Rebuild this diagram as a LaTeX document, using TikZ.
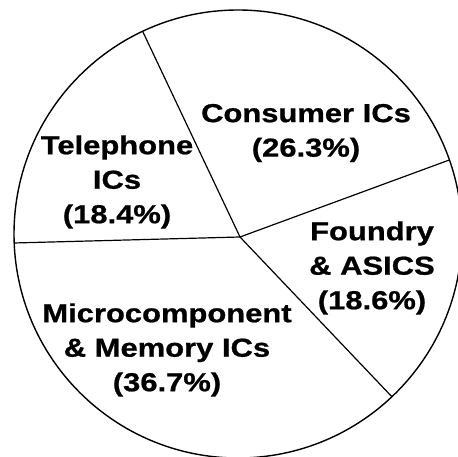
\documentclass[tikz,border=0pt]{standalone}
\usepackage{fontspec}
\newfontfamily\labelfont{Liberation Sans}[FakeStretch=1.19,FakeBold=0.8]
\usetikzlibrary{calc}
\begin{document}
\begin{tikzpicture}[x=1pt,y=1pt,
  rim/.style={line width=1.4pt},
  spoke/.style={line width=1.2pt},
  slicelabel/.style={align=center,inner sep=0pt,
    font=\labelfont\bfseries\fontsize{26}{34.5}\selectfont}]
  \useasboundingbox (0,0) rectangle (458,457);
  \clip (0,0) rectangle (458,457);
  % outline of the pie
  \coordinate (c) at (238,223);
  \draw[rim] (c) circle[radius=224];
  % hub and slice borders on the rim
  \coordinate (hub) at (240,220);
  \coordinate (bTop)   at ($(c)+(115.2:224)$);
  \coordinate (bRight) at ($(c)+(19.3:224)$);
  \coordinate (bLow)   at ($(c)+(-46.6:224)$);
  \coordinate (bLeft)  at ($(c)+(182.3:224)$);
  \draw[spoke] (hub) -- (bTop);
  \draw[spoke] (hub) -- (bRight);
  \draw[spoke] (hub) -- (bLow);
  \draw[spoke] (hub) -- (bLeft);
  % slice labels
  \node[slicelabel] (consumer) at (306,324) {Consumer ICs\\(26.3\%)};
  \node[slicelabel] (telephone) at (117,275) {Telephone\\ICs\\(18.4\%)};
  \node[slicelabel] (foundry) at (372,189) {Foundry\\\& ASICS\\(18.6\%)};
  \node[slicelabel] (micro) at (167,107) {Microcomponent\\\& Memory ICs\\(36.7\%)};
\end{tikzpicture}
\end{document}
